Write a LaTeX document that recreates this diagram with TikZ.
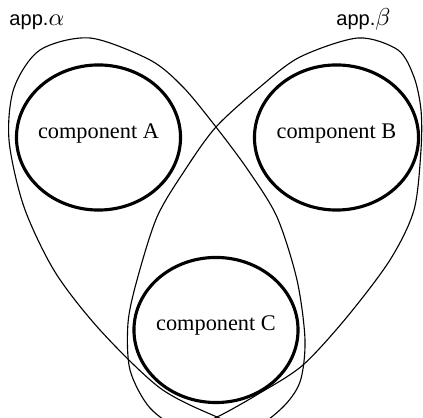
\documentclass[tikz,border=0pt]{standalone}
\usepackage{fontspec}
\setmainfont{Liberation Serif}
\setsansfont{Liberation Sans}
\usetikzlibrary{shapes.geometric}

\tikzset{
  component/.style={ellipse,draw,line width=1.4pt,minimum width=73.5pt,
    minimum height=65pt,inner xsep=-2pt,text depth=6pt,
    font=\fontsize{10}{12}\selectfont},
  appset/.style={line width=0.5pt},
  applabel/.style={font=\sffamily\fontsize{9}{11}\selectfont,inner sep=0pt}
}
\newcommand{\appgreek}[1]{{\fontsize{11}{13}\selectfont$#1$}}

\begin{document}
\begin{tikzpicture}[x=0.448pt,y=-0.448pt]
\useasboundingbox (0,0) rectangle (423,418);
\clip (0,0) rectangle (423,418);

% app alpha
\draw[appset] plot[smooth cycle] coordinates {(90,38) (150,60) (183,87) (216,127)
  (248,170) (277,217) (297,280) (305,340) (300,382) (282,408) (252,428) (217,417)
  (160,388) (100,330) (55,272) (24,207) (9,140) (14,88) (40,50)};

% app beta
\draw[appset] plot[smooth cycle] coordinates {(358,38) (398,50) (414,77) (421,110)
  (421,150) (414,210) (390,260) (347,317) (303,365) (260,393) (217,417) (183,429)
  (150,408) (130,370) (128,323) (137,280) (157,217) (185,170) (216,127) (260,87)
  (300,57)};

\node[component] (compA) at (98.5,137.5) {component A};
\node[component] (compB) at (336.5,137.5) {component B};
\node[component] (compC) at (216,330) {component C};

\node[applabel,anchor=base west] (alpha) at (9,26) {app.\appgreek{\alpha}};
\node[applabel,anchor=base east] (beta) at (391,26) {app.\appgreek{\beta}};

\end{tikzpicture}
\end{document}
